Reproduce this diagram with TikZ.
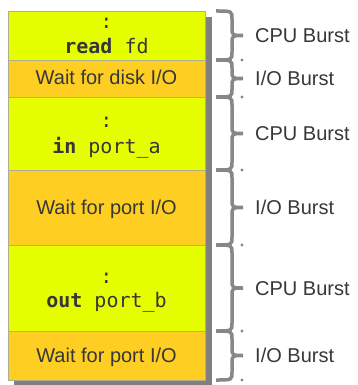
\documentclass[tikz,border=0pt]{standalone}
\usepackage{fontspec}
\setmainfont{Liberation Sans}
\newfontfamily\codefont{DejaVu Sans Mono}
\definecolor{cpuyel}{RGB}{230,255,0}
\definecolor{ioorg}{RGB}{255,206,34}
\definecolor{shadowgray}{RGB}{128,128,128}
\definecolor{bracegray}{RGB}{135,135,135}
\definecolor{txt}{RGB}{55,55,55}
\definecolor{edge}{RGB}{175,175,140}
\begin{document}
\begin{tikzpicture}[x=1pt,y=-1pt,
  cpubox/.style={draw=edge,line width=0.7pt,fill=cpuyel,minimum width=197pt,inner sep=0pt,anchor=north west},
  iobox/.style={draw=edge,line width=0.7pt,fill=ioorg,minimum width=197pt,inner sep=0pt,anchor=north west},
  txtstyle/.style={text=txt,inner sep=0pt,anchor=base,font=\fontsize{20}{24}\selectfont},
  codestyle/.style={text=txt,inner sep=0pt,anchor=base,font=\codefont\fontsize{20}{24}\selectfont},
  lbl/.style={text=txt,inner sep=0pt,anchor=base west,font=\fontsize{20}{24}\selectfont},
  bracestyle/.style={draw=bracegray,line width=3.5pt},
  dotstyle/.style={fill=bracegray}]
\useasboundingbox (0,0) rectangle (358,385);
% shadow
\fill[shadowgray] (14,17) rectangle (212,385);
% blocks
\node[cpubox,minimum height=49pt] (b1) at (8,11) {};
\node[iobox,minimum height=37pt] (b2) at (8,60) {};
\node[cpubox,minimum height=73pt] (b3) at (8,97) {};
\node[iobox,minimum height=75pt] (b4) at (8,170) {};
\node[cpubox,minimum height=86pt] (b5) at (8,245) {};
\node[iobox,minimum height=49pt] (b6) at (8,331) {};
% texts
\node[codestyle] (c1) at (106.5,29) {:};
\node[codestyle] (t1) at (106.5,53.5) {\textbf{read} fd};
\node[txtstyle] (t2) at (106.5,84.5) {Wait for disk I/O};
\node[codestyle] (c3) at (106.5,127) {:};
\node[codestyle] (t3) at (106.5,153) {\textbf{in} port\_a};
\node[txtstyle] (t4) at (106.5,214.5) {Wait for port I/O};
\node[codestyle] (c5) at (106.5,283) {:};
\node[codestyle] (t5) at (106.5,307) {\textbf{out} port\_b};
\node[txtstyle] (t6) at (106.5,362) {Wait for port I/O};
% braces
\foreach \ya/\yb/\nm/\lab in {11/60/l1/{CPU Burst},60/97/l2/{I/O Burst},97/170/l3/{CPU Burst},170/245/l4/{I/O Burst},245/331/l5/{CPU Burst},331/380/l6/{I/O Burst}}{
  \pgfmathsetmacro\bm{(\ya+\yb)/2}
  \draw[bracestyle] (216,\ya) .. controls (232,\ya) .. (232,\ya+8) -- (232,\bm-8)
     .. controls (232,\bm) .. (243,\bm) .. controls (232,\bm) .. (232,\bm+8)
     -- (232,\yb-8) .. controls (232,\yb) .. (216,\yb);
  \node[lbl] (\nm) at (255,\bm+7) {\lab};
}
% dots
\foreach \yd in {60,97,170,245,331,380}{
  \fill[dotstyle] (242,\yd) circle (1.7);
}
\end{tikzpicture}
\end{document}
